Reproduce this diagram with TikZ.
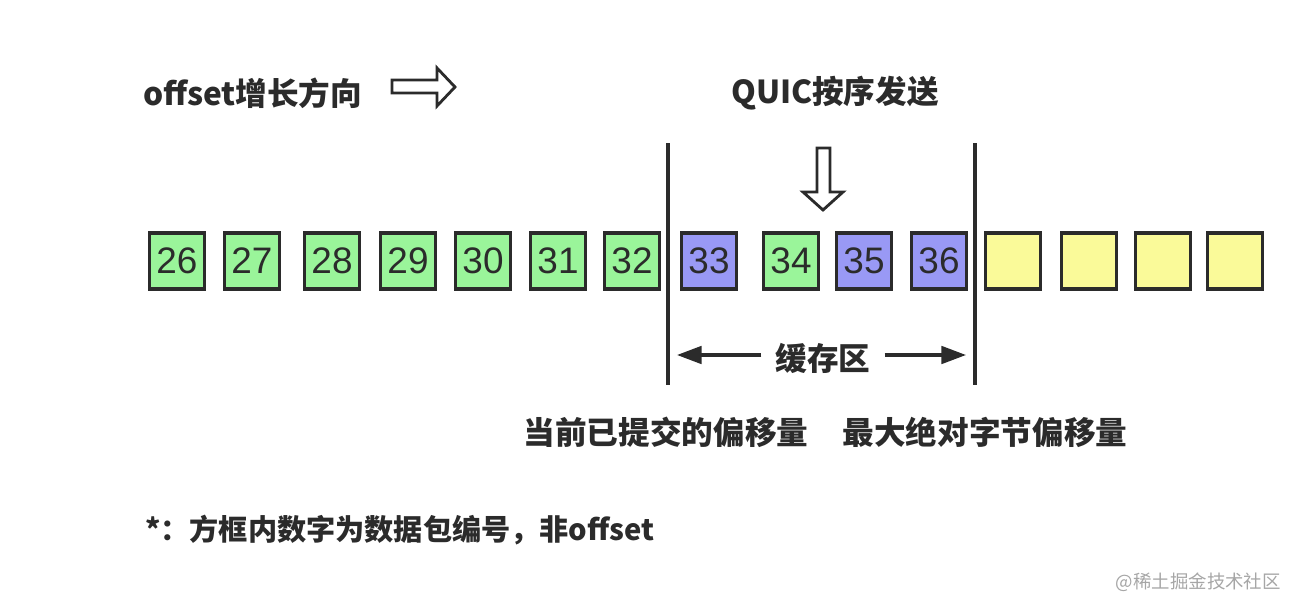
\documentclass[tikz,border=0pt]{standalone}
\usepackage{fontspec}
\setmainfont{Noto Sans CJK SC}
\newfontfamily\numfont{Liberation Sans}
\usepackage{tikz}
\usetikzlibrary{arrows.meta}
\definecolor{ink}{HTML}{2B2B2B}
\definecolor{pktgreen}{HTML}{9AF59A}
\definecolor{pktblue}{HTML}{9999F5}
\definecolor{pktyellow}{HTML}{FAFA99}
\tikzset{
    pkt/.style={draw=ink, line width=2pt, inner sep=0pt,
                minimum width=31.5pt, minimum height=32pt, font=\numfont\fontsize{21}{22}\selectfont, text=ink},
    acked/.style={pkt, fill=pktgreen},
    inflight/.style={pkt, fill=pktblue},
    unsent/.style={pkt, fill=pktyellow},
    caption/.style={font=\bfseries\fontsize{18}{20}\selectfont, text=ink},
    hollow/.style={draw=ink, line width=1.6pt, fill=white, line join=miter}
}

\begin{document}
\begin{tikzpicture}[x=0.02cm, y=-0.02cm]
            \useasboundingbox (0,0) rectangle (1304,612);

            \node[caption, anchor=west] (dir) at (137,93) {offset增长方向};
            \node[caption] (quic) at (835,93) {QUIC按序发送};

            \node[acked] (p26) at (177,261) {26};
            \node[acked] (p27) at (252,261) {27};
            \node[acked] (p28) at (332,261) {28};
            \node[acked] (p29) at (408,261) {29};
            \node[acked] (p30) at (483,261) {30};
            \node[acked] (p31) at (558,261) {31};
            \node[acked] (p32) at (632,261) {32};
            \node[inflight] (p33) at (709,261) {33};
            \node[acked] (p34) at (791,261) {34};
            \node[inflight] (p35) at (864,261) {35};
            \node[inflight] (p36) at (939,261) {36};
            \node[unsent] (y1) at (1013,261) {};
            \node[unsent] (y2) at (1089,261) {};
            \node[unsent] (y3) at (1163,261) {};
            \node[unsent] (y4) at (1235,261) {};

            % committed / max offset marks
            \coordinate (cTop) at (668,143);
            \coordinate (cBot) at (668,385);
            \coordinate (mTop) at (975,143);
            \coordinate (mBot) at (975,385);
            \draw[ink, line width=1.8pt] (cTop) -- (cBot);
            \draw[ink, line width=1.8pt] (mTop) -- (mBot);

            \node[caption] (buf) at (823,358) {缓存区};
            \coordinate (bufL) at (677,355);
            \coordinate (bufR) at (966,355);
            \draw[ink, line width=1.8pt, -{Triangle[length=14pt, width=10pt]}] (buf.west) ++(-8,-3) -- (bufL);
            \draw[ink, line width=1.8pt, -{Triangle[length=14pt, width=10pt]}] (buf.east) ++(8,-3) -- (bufR);

            \node[caption] (commit) at (666,432) {当前已提交的偏移量};
            \node[caption] (maxoff) at (985,432) {最大绝对字节偏移量};

            % hollow arrows
            \draw[hollow] (392,80) -- (437,80) -- (437,68) -- (455,87) -- (437,106) -- (437,93) -- (392,93) -- cycle;
            \draw[hollow] (817,148) -- (830,148) -- (830,192) -- (843,192) -- (823,210) -- (803,192) -- (817,192) -- cycle;

            \node[caption, anchor=west, font=\bfseries\fontsize{16.6}{18}\selectfont] (note) at (139,530) {*：方框内数字为数据包编号，非offset};
            \node[anchor=east, text=black!35, font=\fontsize{10.5}{12}\selectfont] (mark) at (1287,582) {@稀土掘金技术社区};
        \end{tikzpicture}
\end{document}
